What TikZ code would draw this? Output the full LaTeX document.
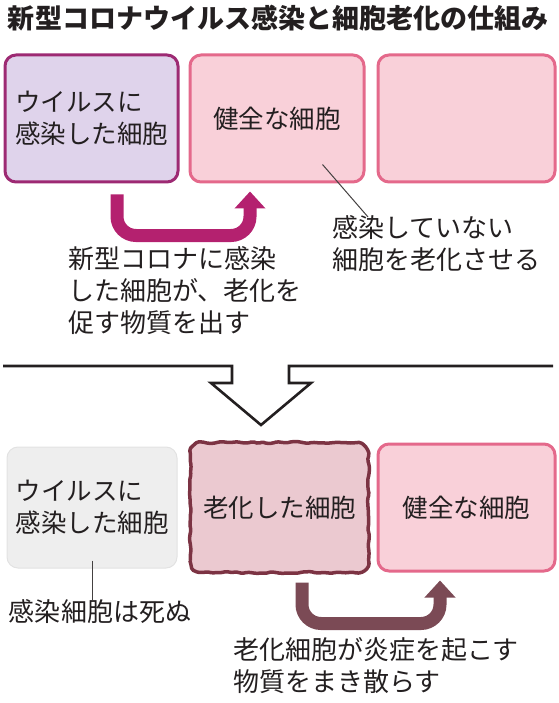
\documentclass[tikz,border=0pt]{standalone}
\usepackage{fontspec}
\setmainfont{Noto Sans CJK JP}
\usetikzlibrary{arrows.meta,decorations.pathmorphing,backgrounds}

\definecolor{ink}{HTML}{231F20}
\definecolor{infectfill}{HTML}{DFD3EB}
\definecolor{infectline}{HTML}{9D2A73}
\definecolor{healthfill}{HTML}{F9D0D9}
\definecolor{healthline}{HTML}{E4698B}
\definecolor{deadfill}{HTML}{EEEEEE}
\definecolor{deadline}{HTML}{E2E2E2}
\definecolor{agedfill}{HTML}{EBC9D0}
\definecolor{agedline}{HTML}{7C3343}
\definecolor{spreadpink}{HTML}{B4216F}
\definecolor{spreadbrown}{HTML}{7B4A55}

\begin{document}
\begin{tikzpicture}[
  x=1pt, y=-1pt,
  cell/.style={
    draw, line width=3pt,
    rounded corners=11pt,
    minimum height=127pt,
    align=left,
    inner sep=0pt,
    font=\fontsize{25.5}{32}\selectfont,
    text=ink
  },
  infectbox/.style={cell, fill=infectfill, draw=infectline, minimum width=173pt},
  healthbox/.style={cell, fill=healthfill, draw=healthline, minimum width=174pt},
  deadbox/.style={cell, fill=deadfill, draw=deadline, line width=1pt, minimum width=170pt, minimum height=121pt},
  agedbox/.style={cell, draw=none, minimum width=175pt},
  wobble/.style={fill=agedfill, draw=agedline, line width=3.5pt, rounded corners=1.5pt,
    decoration={random steps, segment length=5pt, amplitude=1pt}},
  note/.style={font=\fontsize{26}{32}\selectfont, align=left, inner sep=0pt, text=ink},
  uarrow/.style={line width=13pt, rounded corners=19pt,
    -{Triangle[width=30pt,length=17pt]}},
  leader/.style={draw=ink!85, line width=1pt},
  divider/.style={draw=ink, line width=2.6pt, line join=miter},
]
\useasboundingbox (0,0) rectangle (558,703);
\pgfmathsetseed{7}

% Title.
\node[font=\fontsize{27}{30}\selectfont\bfseries, text=ink, inner sep=0pt] (title) at (278,18)
  {新型コロナウイルス感染と細胞老化の仕組み};

% Before: top row.
\node[infectbox] (infected) at (91.5,118.5) {ウイルスに\\感染した細胞};
\node[healthbox] (healthy) at (277,118.5) {健全な細胞};
\node[healthbox, minimum width=177pt] (spare) at (466.5,118.5) {};

\node[note, anchor=north west] (release) at (68,246)
  {新型コロナに感染\\した細胞が、老化を\\促す物質を出す};
\node[note, anchor=north west] (induce) at (332,215)
  {感染していない\\細胞を老化させる};

\draw[uarrow, spreadpink] ([xshift=25.5pt,yshift=-11pt]infected.south)
  -- ++(0,41) -| ([xshift=-27pt,yshift=-8pt]healthy.south);
\draw[leader] ([xshift=-43pt,yshift=19pt]healthy.south east)
  -- ([xshift=36pt,yshift=-2pt]induce.north west);

% Step down.
\draw[divider] (3,366) -- (232,366) -- (232,383) -- (211,383) -- (261,425)
  -- (311,383) -- (289,383) -- (289,366) -- (553,366);

% After: bottom row.
\node[deadbox] (infectedb) at (92,507.5) {ウイルスに\\感染した細胞};
\node[agedbox] (aged) at (279.5,507.5) {老化した細胞};
\node[healthbox, minimum width=177pt] (healthyb) at (466.5,507.5) {健全な細胞};

\node[note] (dead) at (100,612) {感染細胞は死ぬ};
\node[note, anchor=north west] (scatter) at (233,637)
  {老化細胞が炎症を起こす\\物質をまき散らす};

\draw[leader] ([yshift=8pt]infectedb.south) -- (infectedb.south |- dead.north);
\draw[uarrow, spreadbrown] ([xshift=22.5pt,yshift=-10pt]aged.south)
  -- ++(0,41) -| ([xshift=-26.5pt,yshift=-8pt]healthyb.south);

\begin{scope}[on background layer]
  \path[wobble] decorate {[rounded corners=12pt] (aged.south west) rectangle (aged.north east)};
\end{scope}

\end{tikzpicture}
\end{document}
